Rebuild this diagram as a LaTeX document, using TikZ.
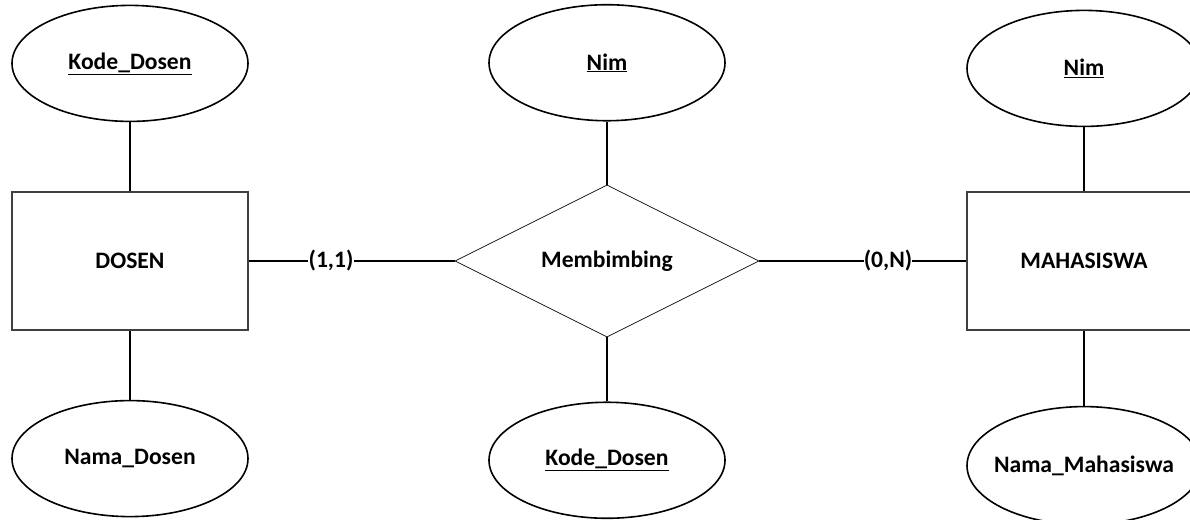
\documentclass[tikz,border=0pt]{standalone}
\usepackage{fontspec}
\setmainfont{Carlito}
\usepackage{tikz}
\usetikzlibrary{positioning,shapes.geometric}

\begin{document}
\begin{tikzpicture}[x=1pt,y=-1pt,font=\fontsize{23.6}{28}\selectfont\bfseries]
    \tikzstyle{ent}=[draw=black!75,line width=1.6pt,minimum width=236pt,minimum height=138pt,inner sep=0pt]
    \tikzstyle{att}=[draw,ellipse,line width=1.6pt,minimum width=236pt,minimum height=116pt,inner sep=0pt]
    \tikzstyle{rel}=[draw,diamond,line width=0.7pt,minimum width=304pt,minimum height=149pt,inner sep=0pt]
    \tikzstyle{card}=[inner sep=0pt]
    \tikzstyle{con}=[line width=1.5pt]
    \useasboundingbox (0,0) rectangle (1190,519);

    \node[ent] (dosen) at (130,261) {DOSEN};
    \node[att,above=69pt of dosen] (kdDosen) {\underline{Kode\_Dosen}};
    \node[att,below=69pt of dosen] (nmDosen) {Nama\_Dosen};

    \node[rel] (bimbing) at (607,261) {Membimbing};
    \node[att,above=63pt of bimbing] (nimBimbing) {\underline{Nim}};
    \node[att,below=64pt of bimbing] (kdBimbing) {\underline{Kode\_Dosen}};

    \node[ent,minimum width=234pt] (mhs) at (1084,261) {MAHASISWA};
    \node[att,minimum width=234pt,above=64pt of mhs] (nimMhs) {\underline{Nim}};
    \node[att,minimum width=234pt,minimum height=118pt,inner xsep=-12pt,below=75pt of mhs] (nmMhs) {Nama\_Mahasiswa};

    \node[card] (c11) at (331,261) {(1,1)};
    \node[card] (c0n) at (888,261) {(0,N)};

    \draw[con] (kdDosen) -- (dosen);
    \draw[con] (dosen) -- (nmDosen);
    \draw[con] (nimBimbing) -- (bimbing);
    \draw[con] (bimbing) -- (kdBimbing);
    \draw[con] (nimMhs) -- (mhs);
    \draw[con] (mhs) -- (nmMhs);
    % relationship links with cardinalities
    \draw[con] (dosen) -- (c11) -- (bimbing);
    \draw[con] (bimbing) -- (c0n) -- (mhs);
  \end{tikzpicture}
\end{document}
